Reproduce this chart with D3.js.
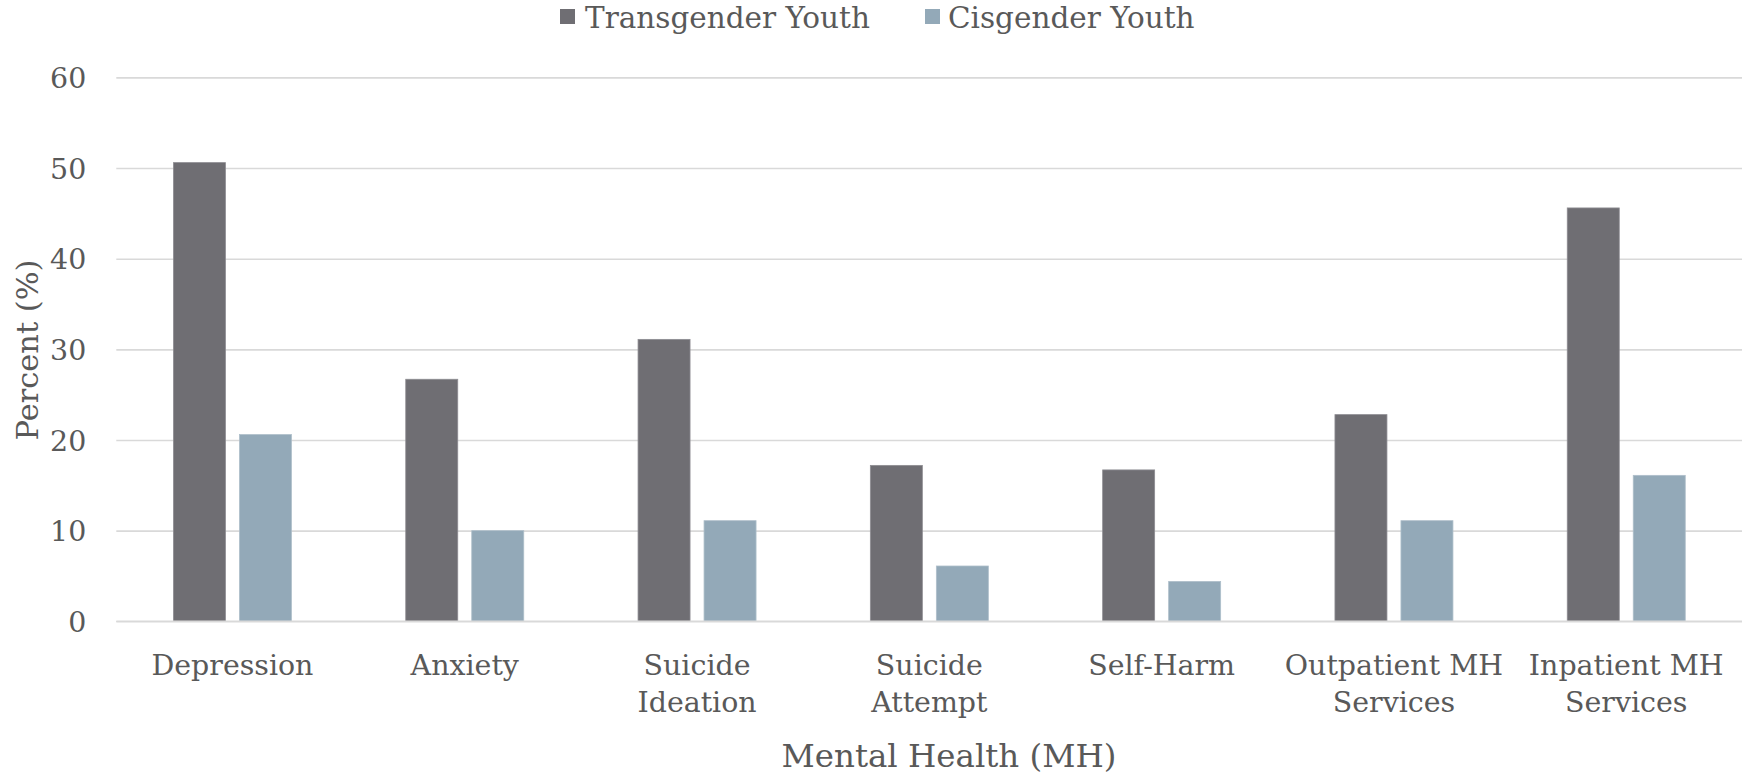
<!DOCTYPE html>
<html>
<head>
<meta charset="utf-8">
<script src="https://cdn.jsdelivr.net/npm/d3@7"></script>
<style>
  html, body { margin: 0; padding: 0; background: #ffffff; }
  svg { display: block; }
  text { font-family: "DejaVu Serif", "Liberation Serif", serif; fill: #595959; }
</style>
</head>
<body>
<svg id="chart" width="1742" height="779"></svg>
<script>
// ---- data ----
const categories = [
  ["Depression"],
  ["Anxiety"],
  ["Suicide", "Ideation"],
  ["Suicide", "Attempt"],
  ["Self-Harm"],
  ["Outpatient MH", "Services"],
  ["Inpatient MH", "Services"]
];
const seriesNames = ["Transgender Youth", "Cisgender Youth"];
const transgenderValues = [50.6, 26.7, 31.1, 17.2, 16.7, 22.8, 45.6];
const cisgenderValues   = [20.6, 10.0, 11.1, 6.1, 4.4, 11.1, 16.1];
const yTicks = [0, 10, 20, 30, 40, 50, 60];
const xTitle = "Mental Health (MH)";
const yTitle = "Percent (%)";

// ---- layout ----
const W = 1742, H = 779;
const plotLeft = 116.3, plotRight = 1742.4, plotTop = 77.4, plotBottom = 621.3;
const colors = ["#6f6e73", "#93a9b8"];
const textColor = "#595959";
const svg = d3.select("#chart");

const catKeys = categories.map(c => c.join(" "));
const x0 = d3.scaleBand().domain(catKeys).range([plotLeft, plotRight]).paddingInner(0).paddingOuter(0);
const groupOffset = (x0.bandwidth() - 118) / 2;
const x1 = d3.scaleBand().domain(seriesNames).range([groupOffset, groupOffset + 118]).paddingInner(14 / 66).paddingOuter(0);
const y = d3.scaleLinear().domain([0, 60]).range([plotBottom, plotTop]);

// fit a font size so that a sample string has a target width
function fitSize(sample, targetWidth) {
  const t = svg.append("text").attr("font-size", 100).text(sample);
  const w = t.node().getComputedTextLength();
  t.remove();
  return 100 * targetWidth / w;
}
const tickSize = fitSize("Depression", 162);
const legendSize = fitSize("Transgender Youth", 285);
const xTitleSize = fitSize(xTitle, 335);
const yTitleSize = fitSize(yTitle, 181);

// ---- gridlines ----
const yAxis = d3.axisLeft(y).tickValues(yTicks).tickSize(-(plotRight - plotLeft)).tickPadding(30).tickFormat(d3.format("d"));
const gy = svg.append("g").attr("transform", `translate(${plotLeft},0)`).call(yAxis);
gy.select(".domain").remove();
gy.selectAll(".tick line").attr("stroke", "#d9d9d9").attr("stroke-width", 1.6);
gy.selectAll(".tick text")
  .attr("font-size", tickSize)
  .attr("fill", textColor)
  .attr("font-family", "DejaVu Serif, serif")
  .attr("dy", "0.36em");

// ---- bars ----
const rows = catKeys.map((k, i) => ({ key: k, values: [transgenderValues[i], cisgenderValues[i]] }));
const groups = svg.append("g").selectAll("g").data(rows).join("g")
  .attr("transform", d => `translate(${x0(d.key)},0)`);
groups.selectAll("rect").data(d => d.values.map((v, j) => ({ name: seriesNames[j], v, j })))
  .join("rect")
  .attr("x", d => x1(d.name))
  .attr("y", d => y(d.v))
  .attr("width", x1.bandwidth())
  .attr("height", d => y(0) - y(d.v))
  .attr("fill", d => colors[d.j])
  .attr("stroke", d => d.j === 0 ? "#8e8d92" : "#aebfca")
  .attr("stroke-width", 0.8);

// baseline
svg.append("line").attr("x1", plotLeft).attr("x2", plotRight)
  .attr("y1", y(0)).attr("y2", y(0)).attr("stroke", "#d9d9d9").attr("stroke-width", 1.6);

// ---- x labels ----
const xl = svg.append("g");
categories.forEach((lines, i) => {
  const cx = x0(catKeys[i]) + x0.bandwidth() / 2;
  const t = xl.append("text").attr("text-anchor", "middle").attr("font-size", tickSize).attr("fill", textColor);
  lines.forEach((ln, j) => {
    t.append("tspan").attr("x", cx).attr("y", 675 + j * 36.5).text(ln);
  });
});

// ---- axis titles ----
svg.append("text").attr("x", 949).attr("y", 767).attr("text-anchor", "middle")
  .attr("font-size", xTitleSize).attr("fill", textColor).text(xTitle);
svg.append("text").attr("transform", `translate(38,350) rotate(-90)`).attr("text-anchor", "middle")
  .attr("font-size", yTitleSize).attr("fill", textColor).text(yTitle);

// ---- legend ----
const legendItems = [
  { name: seriesNames[0], sx: 560, tx: 585 },
  { name: seriesNames[1], sx: 925, tx: 948 }
];
const lg = svg.append("g");
legendItems.forEach((it, i) => {
  lg.append("rect").attr("x", it.sx).attr("y", 9).attr("width", 15).attr("height", 15).attr("fill", colors[i]);
  lg.append("text").attr("x", it.tx).attr("y", 28).attr("font-size", legendSize).attr("fill", textColor).text(it.name);
});
</script>
</body>
</html>
